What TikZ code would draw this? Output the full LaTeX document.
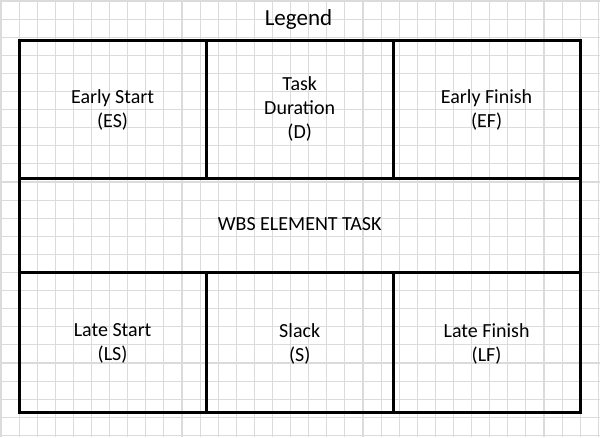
\documentclass[tikz,border=0pt]{standalone}
\usepackage{fontspec}
\setmainfont{Carlito}

\tikzset{
  cell/.style={align=center, inner sep=0pt, font=\fontsize{20}{24}\selectfont},
  frame/.style={line width=3pt, black},
  gridline/.style={line width=1.1pt, black!14}
}

\begin{document}
\begin{tikzpicture}[x=1pt,y=1pt]
  \def\W{600}
  \def\H{437}
  \def\g{18.1}

  % table edges
  \def\L{19.5}
  \def\R{580}
  \def\T{396.5}
  \def\B{25}
  \def\ya{258}
  \def\yb{164}
  \def\xa{206.3}
  \def\xb{393.3}

  \useasboundingbox (0,0) rectangle (\W,\H);
  \fill[white] (0,0) rectangle (\W,\H);

  % background grid
  \foreach \k in {0,...,33} {
    \pgfmathsetmacro{\gx}{1+\g*\k}
    \draw[gridline] (\gx,0) -- (\gx,\H);
  }
  \foreach \k in {0,...,24} {
    \pgfmathsetmacro{\gy}{\H-1-\g*\k}
    \draw[gridline] (0,\gy) -- (\W,\gy);
  }

  \draw[frame] (\L,\B) rectangle (\R,\T);
  \draw[frame] (\L,\ya) -- (\R,\ya) (\L,\yb) -- (\R,\yb);
  \draw[frame] (\xa,\ya) -- (\xa,\T) (\xb,\ya) -- (\xb,\T);
  \draw[frame] (\xa,\B) -- (\xa,\yb) (\xb,\B) -- (\xb,\yb);

  \node[anchor=base, inner sep=0pt, font=\fontsize{23}{27}\selectfont] (legend) at (298.5,411) {Legend};

  \node[cell] (es) at (112.6,327) {Early Start\\(ES)};
  \node[cell] (d)  at (299.7,328) {Task\\Duration\\(D)};
  \node[cell] (ef) at (486.6,327) {Early Finish\\(EF)};

  \node[cell] (wbs) at (299.7,212.5) {WBS ELEMENT TASK};

  \node[cell] (ls) at (112.6,93.5) {Late Start\\(LS)};
  \node[cell] (s)  at (299.7,93.5) {Slack\\(S)};
  \node[cell] (lf) at (486.6,93.5) {Late Finish\\(LF)};

\end{tikzpicture}
\end{document}
